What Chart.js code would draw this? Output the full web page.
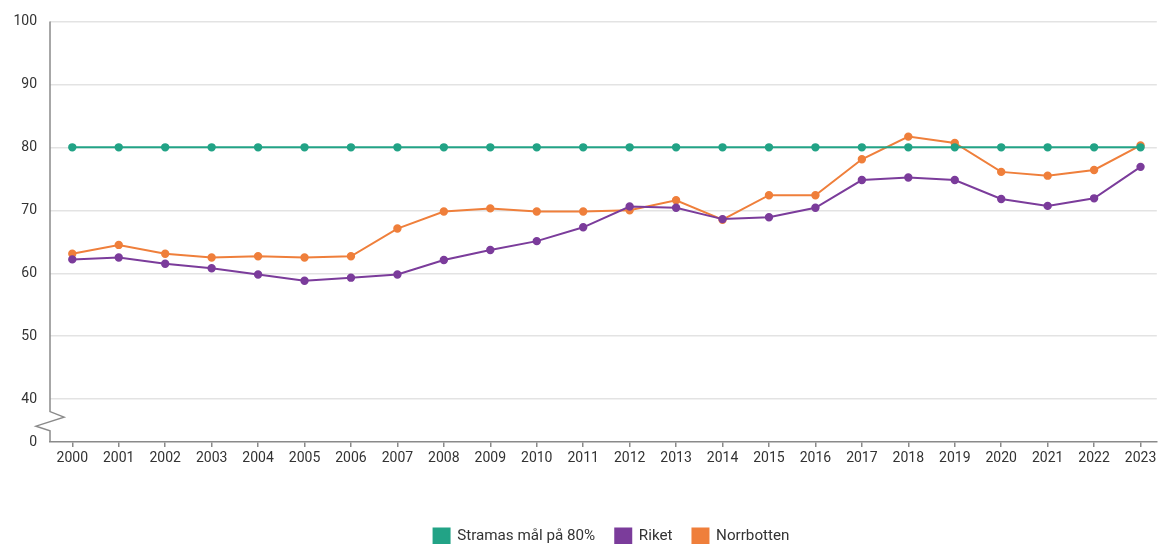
<!DOCTYPE html>
<html>
<head>
<meta charset="utf-8">
<script src="https://cdn.jsdelivr.net/npm/chart.js@4.4.1/dist/chart.umd.min.js"></script>
<style>
  html, body { margin: 0; padding: 0; background: #fff; }
  #wrap { width: 1162px; height: 544px; position: relative; }
</style>
</head>
<body>
<div id="wrap"><canvas id="c"></canvas></div>
<script>
const years = [2000,2001,2002,2003,2004,2005,2006,2007,2008,2009,2010,2011,2012,2013,2014,2015,2016,2017,2018,2019,2020,2021,2022,2023];
const stramas = [80,80,80,80,80,80,80,80,80,80,80,80,80,80,80,80,80,80,80,80,80,80,80,80];
const riket = [62.2,62.5,61.5,60.8,59.8,58.8,59.3,59.8,62.1,63.7,65.1,67.3,70.6,70.4,68.6,68.9,70.4,74.8,75.2,74.8,71.8,70.7,71.9,76.9];
const norrbotten = [63.1,64.5,63.1,62.5,62.7,62.5,62.7,67.1,69.8,70.3,69.8,69.8,70.0,71.6,68.5,72.4,72.4,78.1,81.7,80.7,76.1,75.5,76.4,80.3];
const seriesNames = ['Stramas mål på 80%', 'Riket', 'Norrbotten'];
const yTicks = [40,50,60,70,80,90,100];
const yBreakValue = 33.2; // bottom of axis, labelled "0"

const colors = ['#22a386', '#7b3c9b', '#ef7f3b'];

function ds(label, values, color) {
  return {
    label: label,
    data: values.map((v, i) => ({x: years[i], y: v})),
    borderColor: color,
    backgroundColor: color,
    pointBackgroundColor: color,
    pointBorderColor: color,
    borderWidth: 2,
    pointRadius: 3.2,
    pointHoverRadius: 3.2,
    tension: 0
  };
}

const axisBreak = {
  id: 'axisBreak',
  afterLayout(chart) {
    const lg = chart.legend;
    if (lg) {
      const shiftY = 537.5 - (lg.top + lg.options.labels.padding + 9);
      lg.top += shiftY;
      lg.bottom += shiftY;
      const shiftX = 611.5 - (lg.left + lg.right) / 2;
      lg.left += shiftX;
      lg.right += shiftX;
    }
  },
  afterDraw(chart) {
    const ctx = chart.ctx;
    const ys = chart.scales.y;
    const x0 = chart.chartArea.left;
    const yTop = chart.chartArea.top;
    const yBot = chart.chartArea.bottom;
    const y40 = ys.getPixelForValue(40);
    const gap = yBot - y40;
    ctx.save();
    ctx.strokeStyle = '#8a8a8a';
    ctx.lineWidth = 1.5;
    ctx.beginPath();
    ctx.moveTo(x0, yTop);
    ctx.lineTo(x0, y40 + gap * 0.29);
    ctx.lineTo(x0 + 14, y40 + gap * 0.42);
    ctx.lineTo(x0 - 14, y40 + gap * 0.63);
    ctx.lineTo(x0, y40 + gap * 0.74);
    ctx.lineTo(x0, yBot);
    ctx.stroke();
    ctx.restore();
  }
};

new Chart(document.getElementById('c'), {
  type: 'line',
  data: {
    datasets: [
      ds(seriesNames[0], stramas, colors[0]),
      ds(seriesNames[1], riket, colors[1]),
      ds(seriesNames[2], norrbotten, colors[2])
    ]
  },
  options: {
    responsive: true,
    maintainAspectRatio: false,
    animation: false,
    layout: { padding: { top: 4, right: 2, left: 0, bottom: 0 } },
    plugins: {
      tooltip: { enabled: false },
      legend: {
        position: 'bottom',
        labels: {
          boxWidth: 16,
          boxHeight: 16,
          padding: 20,
          color: '#333',
          font: { family: 'Roboto', size: 15.2 }
        }
      }
    },
    scales: {
      x: {
        type: 'linear',
        min: 1999.52,
        max: 2023.35,
        afterBuildTicks(scale) { scale.ticks = years.map(v => ({value: v})); },
        afterFit(scale) { scale.height = 56; },
        ticks: {
          color: '#333',
          font: { family: 'Roboto', size: 14 },
          padding: 3,
          maxRotation: 0,
          autoSkip: false,
          callback: (v) => String(v)
        },
        grid: { display: true, drawOnChartArea: false, drawTicks: true, tickLength: 5, color: '#8a8a8a', lineWidth: 1.5 },
        border: { display: true, color: '#8a8a8a', width: 1.5 }
      },
      y: {
        type: 'linear',
        min: yBreakValue,
        max: 100,
        afterBuildTicks(scale) { scale.ticks = [{value: yBreakValue}].concat(yTicks.map(v => ({value: v}))); },
        afterFit(scale) { scale.width = 50; },
        ticks: {
          color: '#333',
          font: { family: 'Roboto', size: 14 },
          padding: 13,
          callback: (v) => v < 40 ? '0' : String(v)
        },
        grid: {
          drawTicks: false,
          color: (c) => (c.tick && c.tick.value < 40) ? 'rgba(0,0,0,0)' : '#e3e3e3',
          lineWidth: 1.5
        },
        border: { display: false }
      }
    }
  },
  plugins: [axisBreak]
});
</script>
</body>
</html>
